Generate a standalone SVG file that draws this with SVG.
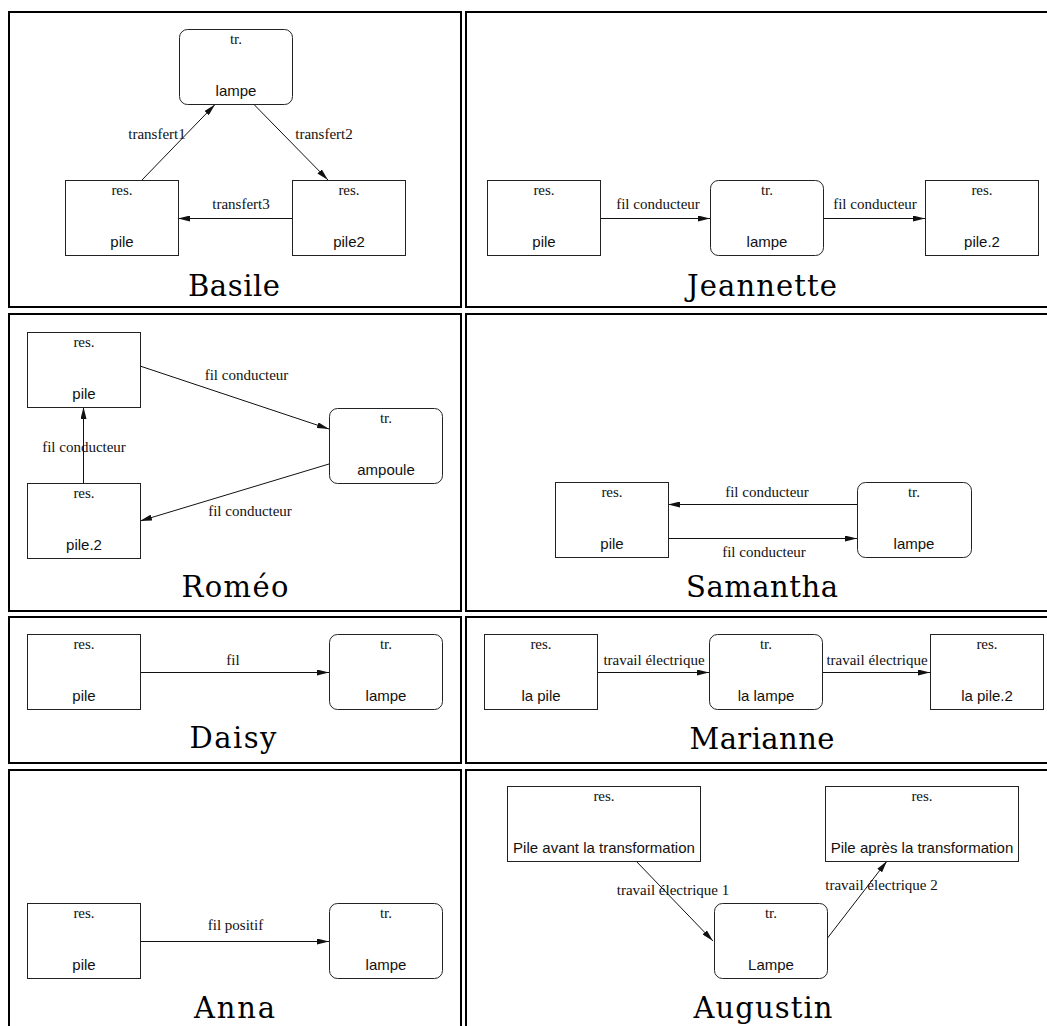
<svg xmlns="http://www.w3.org/2000/svg" width="1047" height="1026" viewBox="0 0 1047 1026">
<style>
.frame{fill:none;stroke:#000;stroke-width:2}
.box{fill:#fff;stroke:#222;stroke-width:1}
.lbl{font-family:"Liberation Serif",serif;font-size:15px;fill:#111;text-anchor:middle}
.nm{font-family:"Liberation Sans",Arial,sans-serif;font-size:15px;fill:#111;text-anchor:middle}
.title{font-family:"DejaVu Serif",serif;font-size:29px;fill:#000;text-anchor:middle}
.edge{fill:none;stroke:#111;stroke-width:1;marker-end:url(#arr)}
</style>
<defs>
<marker id="arr" markerUnits="userSpaceOnUse" markerWidth="12" markerHeight="6" refX="12" refY="3" orient="auto" viewBox="0 0 12 6">
<path d="M0,0 L12,3 L0,6 z" fill="#111"/>
</marker>
</defs>
<rect width="1047" height="1026" fill="#fff"/>
<g id="frames">
<rect class="frame" x="9" y="12" width="452" height="295"/>
<rect class="frame" x="466" y="12" width="620" height="295"/>
<rect class="frame" x="9" y="314" width="452" height="297"/>
<rect class="frame" x="466" y="314" width="620" height="297"/>
<rect class="frame" x="9" y="617" width="452" height="146"/>
<rect class="frame" x="466" y="617" width="620" height="146"/>
<rect class="frame" x="9" y="770" width="452" height="280"/>
<rect class="frame" x="466" y="770" width="620" height="280"/>
</g>
<g id="titles">
<text class="title" x="234" y="296" textLength="92">Basile</text>
<text class="title" x="762" y="296" textLength="150">Jeannette</text>
<text class="title" x="235" y="597" textLength="107">Roméo</text>
<text class="title" x="762" y="597" textLength="152">Samantha</text>
<text class="title" x="233" y="748" textLength="87">Daisy</text>
<text class="title" x="762" y="749" textLength="145">Marianne</text>
<text class="title" x="234.5" y="1018" textLength="81">Anna</text>
<text class="title" x="763" y="1018" textLength="139">Augustin</text>
</g>
<g id="connectors">
<line class="edge" x1="142" y1="180" x2="215" y2="104.5"/>
<line class="edge" x1="254" y1="104.5" x2="328" y2="180"/>
<line class="edge" x1="292" y1="218.5" x2="178" y2="218.5"/>
<line class="edge" x1="600" y1="218.5" x2="710" y2="218.5"/>
<line class="edge" x1="823" y1="218.5" x2="925" y2="218.5"/>
<line class="edge" x1="140" y1="366" x2="329" y2="429"/>
<line class="edge" x1="329" y1="464" x2="140" y2="521"/>
<line class="edge" x1="83.5" y1="483" x2="83.5" y2="407"/>
<line class="edge" x1="857" y1="504.5" x2="668" y2="504.5"/>
<line class="edge" x1="668" y1="538.5" x2="857" y2="538.5"/>
<line class="edge" x1="140" y1="672.5" x2="329" y2="672.5"/>
<line class="edge" x1="597" y1="672.5" x2="709" y2="672.5"/>
<line class="edge" x1="822" y1="672.5" x2="930" y2="672.5"/>
<line class="edge" x1="140" y1="941.5" x2="329" y2="941.5"/>
<line class="edge" x1="636" y1="861" x2="713" y2="941"/>
<line class="edge" x1="826" y1="940" x2="887" y2="861"/>
<text class="lbl" x="157" y="139">transfert1</text>
<text class="lbl" x="324" y="139">transfert2</text>
<text class="lbl" x="241" y="209">transfert3</text>
<text class="lbl" x="658" y="209">fil conducteur</text>
<text class="lbl" x="875" y="209">fil conducteur</text>
<text class="lbl" x="246.5" y="380">fil conducteur</text>
<text class="lbl" x="250" y="516">fil conducteur</text>
<text class="lbl" x="84" y="452">fil conducteur</text>
<text class="lbl" x="767" y="497">fil conducteur</text>
<text class="lbl" x="764" y="557">fil conducteur</text>
<text class="lbl" x="233" y="665">fil</text>
<text class="lbl" x="654" y="665">travail électrique</text>
<text class="lbl" x="877" y="665">travail électrique</text>
<text class="lbl" x="235.5" y="930">fil positif</text>
<text class="lbl" x="673" y="895">travail électrique 1</text>
<text class="lbl" x="881.5" y="890">travail électrique 2</text>
</g>
<g id="basile-lampe"><rect class="box" x="179.5" y="29.5" width="113" height="75" rx="8"/><text class="lbl" x="236" y="44">tr.</text><text class="nm" x="236" y="96">lampe</text></g>
<g id="basile-pile"><rect class="box" x="65.5" y="180.5" width="113" height="75"/><text class="lbl" x="122" y="195">res.</text><text class="nm" x="122" y="247">pile</text></g>
<g id="basile-pile2"><rect class="box" x="292.5" y="180.5" width="113" height="75"/><text class="lbl" x="349" y="195">res.</text><text class="nm" x="349" y="247">pile2</text></g>
<g id="jeannette-pile"><rect class="box" x="487.5" y="180.5" width="113" height="75"/><text class="lbl" x="544" y="195">res.</text><text class="nm" x="544" y="247">pile</text></g>
<g id="jeannette-lampe"><rect class="box" x="710.5" y="180.5" width="113" height="75" rx="8"/><text class="lbl" x="767" y="195">tr.</text><text class="nm" x="767" y="247">lampe</text></g>
<g id="jeannette-pile2"><rect class="box" x="925.5" y="180.5" width="113" height="75"/><text class="lbl" x="982" y="195">res.</text><text class="nm" x="982" y="247">pile.2</text></g>
<g id="romeo-pile"><rect class="box" x="27.5" y="332.5" width="113" height="75"/><text class="lbl" x="84" y="347">res.</text><text class="nm" x="84" y="399">pile</text></g>
<g id="romeo-pile2"><rect class="box" x="27.5" y="483.5" width="113" height="75"/><text class="lbl" x="84" y="498">res.</text><text class="nm" x="84" y="550">pile.2</text></g>
<g id="romeo-ampoule"><rect class="box" x="329.5" y="408.5" width="113" height="75" rx="8"/><text class="lbl" x="386" y="423">tr.</text><text class="nm" x="386" y="475">ampoule</text></g>
<g id="samantha-pile"><rect class="box" x="555.5" y="482.5" width="113" height="75"/><text class="lbl" x="612" y="497">res.</text><text class="nm" x="612" y="549">pile</text></g>
<g id="samantha-lampe"><rect class="box" x="857.5" y="482.5" width="114" height="75" rx="8"/><text class="lbl" x="914" y="497">tr.</text><text class="nm" x="914" y="549">lampe</text></g>
<g id="daisy-pile"><rect class="box" x="27.5" y="634.5" width="113" height="75"/><text class="lbl" x="84" y="649">res.</text><text class="nm" x="84" y="701">pile</text></g>
<g id="daisy-lampe"><rect class="box" x="329.5" y="634.5" width="113" height="75" rx="8"/><text class="lbl" x="386" y="649">tr.</text><text class="nm" x="386" y="701">lampe</text></g>
<g id="marianne-pile"><rect class="box" x="484.5" y="634.5" width="113" height="75"/><text class="lbl" x="541" y="649">res.</text><text class="nm" x="541" y="701">la pile</text></g>
<g id="marianne-lampe"><rect class="box" x="709.5" y="634.5" width="113" height="75" rx="8"/><text class="lbl" x="766" y="649">tr.</text><text class="nm" x="766" y="701">la lampe</text></g>
<g id="marianne-pile2"><rect class="box" x="930.5" y="634.5" width="113" height="75"/><text class="lbl" x="987" y="649">res.</text><text class="nm" x="987" y="701">la pile.2</text></g>
<g id="anna-pile"><rect class="box" x="27.5" y="903.5" width="113" height="75"/><text class="lbl" x="84" y="918">res.</text><text class="nm" x="84" y="970">pile</text></g>
<g id="anna-lampe"><rect class="box" x="329.5" y="903.5" width="113" height="75" rx="8"/><text class="lbl" x="386" y="918">tr.</text><text class="nm" x="386" y="970">lampe</text></g>
<g id="augustin-avant"><rect class="box" x="507.5" y="786.5" width="193" height="75"/><text class="lbl" x="604" y="801">res.</text><text class="nm" x="604" y="853">Pile avant la transformation</text></g>
<g id="augustin-apres"><rect class="box" x="825.5" y="786.5" width="193" height="75"/><text class="lbl" x="922" y="801">res.</text><text class="nm" x="922" y="853">Pile après la transformation</text></g>
<g id="augustin-lampe"><rect class="box" x="714.5" y="903.5" width="113" height="75" rx="8"/><text class="lbl" x="771" y="918">tr.</text><text class="nm" x="771" y="970">Lampe</text></g>
</svg>
